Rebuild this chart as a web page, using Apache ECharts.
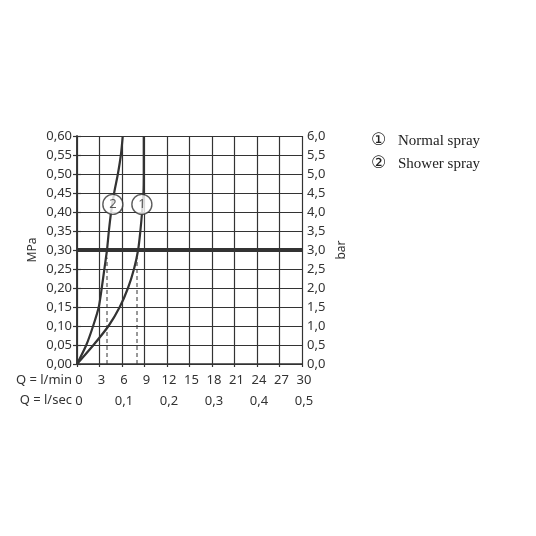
<!DOCTYPE html>
<html><head><meta charset="utf-8">
<script src="https://cdn.jsdelivr.net/npm/echarts@6/dist/echarts.min.js"></script>
<style>html,body{margin:0;padding:0;background:#fff}#c{width:536px;height:536px}</style>
</head><body><div id="c"></div>
<script>
// Data
const normalSpray = [[0,0],[2.2,0.05],[4.2,0.10],[5.7,0.15],[6.8,0.20],[7.6,0.25],[8.15,0.30],[8.45,0.35],[8.68,0.40],[8.86,0.45],[8.9,0.50],[8.9,0.55],[8.9,0.60]];
const showerSpray = [[0,0],[1.24,0.05],[2.15,0.10],[2.9,0.15],[3.3,0.20],[3.65,0.25],[4.0,0.30],[4.25,0.35],[4.55,0.40],[4.95,0.45],[5.45,0.50],[5.85,0.55],[6.1,0.60]];
const seriesNames = ['Normal spray', 'Shower spray'];
const legendMarks = ['\u2460', '\u2461'];
const markerNums = ['1', '2'];
const markerPos = [[8.65,0.42],[4.78,0.42]];
const refPressure = 0.30;
const dropLines = [[[8.0,0],[8.0,0.28]],[[4.0,0],[4.0,0.28]]];
const xName1 = 'Q = l/min', xName2 = 'Q = l/sec';
const yNameLeft = 'MPa', yNameRight = 'bar';

const ink = '#333';
const font = 'Noto Sans';
const serif = '15px "Liberation Serif", "Times New Roman", serif';
const markFont = '17px "DejaVu Sans", "Noto Sans CJK SC", sans-serif';
const fmtComma = (v, d) => v.toFixed(d).replace('.', ',');

const chart = echarts.init(document.getElementById('c'), null, {renderer: 'canvas'});
const option = {
  animation: false,
  grid: {left: 77, right: 234, top: 136, bottom: 172},
  textStyle: {fontFamily: font},
  xAxis: [{
    type: 'value', min: 0, max: 30, interval: 3, position: 'bottom',
    axisLine: {show: true, lineStyle: {color: ink, width: 1.5}},
    axisTick: {show: true, length: 3, lineStyle: {color: ink, width: 1.2}},
    axisLabel: {color: ink, fontSize: 13, fontFamily: font, margin: 10, padding: [0,0,0,4], formatter: v => String(v)},
    splitLine: {show: true, lineStyle: {color: ink, width: 1.2}}
  }, {
    type: 'value', min: 0, max: 30, interval: 6, position: 'bottom', offset: 21,
    axisLine: {show: false}, axisTick: {show: false}, splitLine: {show: false},
    axisLabel: {color: ink, fontSize: 13, fontFamily: font, margin: 10, padding: [0,0,0,4], formatter: v => v === 0 ? '0' : fmtComma(v / 60, 1)}
  }],
  yAxis: [{
    type: 'value', min: 0, max: 0.6, interval: 0.05, position: 'left',
    name: yNameLeft, nameLocation: 'middle', nameRotate: 90, nameGap: 38,
    nameTextStyle: {color: ink, fontSize: 12, fontFamily: font},
    axisLine: {show: true, lineStyle: {color: ink, width: 1.5}},
    axisTick: {show: true, length: 4, lineStyle: {color: ink, width: 1.2}},
    axisLabel: {color: ink, fontSize: 13, fontFamily: font, margin: 5, formatter: v => fmtComma(v, 2)},
    splitLine: {show: true, lineStyle: {color: ink, width: 1.2}}
  }, {
    type: 'value', min: 0, max: 6, interval: 0.5, position: 'right',
    name: yNameRight, nameLocation: 'middle', nameRotate: 90, nameGap: 34,
    nameTextStyle: {color: ink, fontSize: 12, fontFamily: font},
    axisLine: {show: true, lineStyle: {color: ink, width: 1.5}},
    axisTick: {show: true, length: 4, lineStyle: {color: ink, width: 1.2}},
    axisLabel: {color: ink, fontSize: 13, fontFamily: font, margin: 5, formatter: v => fmtComma(v, 1)},
    splitLine: {show: false}
  }],
  graphic: [
    {type: 'text', x: 72, y: 380, style: {text: xName1, font: '13px "Noto Sans"', fill: ink, textAlign: 'right', textVerticalAlign: 'middle'}},
    {type: 'text', x: 72, y: 400, style: {text: xName2, font: '13px "Noto Sans"', fill: ink, textAlign: 'right', textVerticalAlign: 'middle'}},
    {type: 'text', x: 371, y: 141, style: {text: legendMarks[0], font: markFont, fill: '#222', textVerticalAlign: 'middle'}},
    {type: 'text', x: 398, y: 141, style: {text: seriesNames[0], font: serif, fill: '#222', textVerticalAlign: 'middle'}},
    {type: 'text', x: 371, y: 164, style: {text: legendMarks[1], font: markFont, fill: '#222', textVerticalAlign: 'middle'}},
    {type: 'text', x: 398, y: 164, style: {text: seriesNames[1], font: serif, fill: '#222', textVerticalAlign: 'middle'}}
  ],
  series: [
    {type: 'line', name: 'ref', data: [[0, refPressure],[30, refPressure]], symbol: 'none', lineStyle: {color: ink, width: 4}, z: 3},
    {type: 'line', name: 'drop1', data: dropLines[0], symbol: 'none', lineStyle: {color: ink, width: 1, type: [4,3]}, z: 2},
    {type: 'line', name: 'drop2', data: dropLines[1], symbol: 'none', lineStyle: {color: ink, width: 1, type: [4,3]}, z: 2},
    {type: 'line', name: seriesNames[0], data: normalSpray, symbol: 'none', smooth: 0.25, lineStyle: {color: ink, width: 2.2}, z: 4},
    {type: 'line', name: seriesNames[1], data: showerSpray, symbol: 'none', smooth: 0.25, lineStyle: {color: ink, width: 2.2}, z: 4},
    {type: 'scatter', data: markerPos.map((p, i) => ({value: p, label: {formatter: markerNums[i]}})), symbol: 'circle', symbolSize: 20,
      itemStyle: {color: '#fff', borderColor: ink, borderWidth: 1.4},
      label: {show: true, position: 'inside', color: ink, fontSize: 13, fontFamily: font}, z: 6}
  ]
};
chart.setOption(option);
</script></body></html>
